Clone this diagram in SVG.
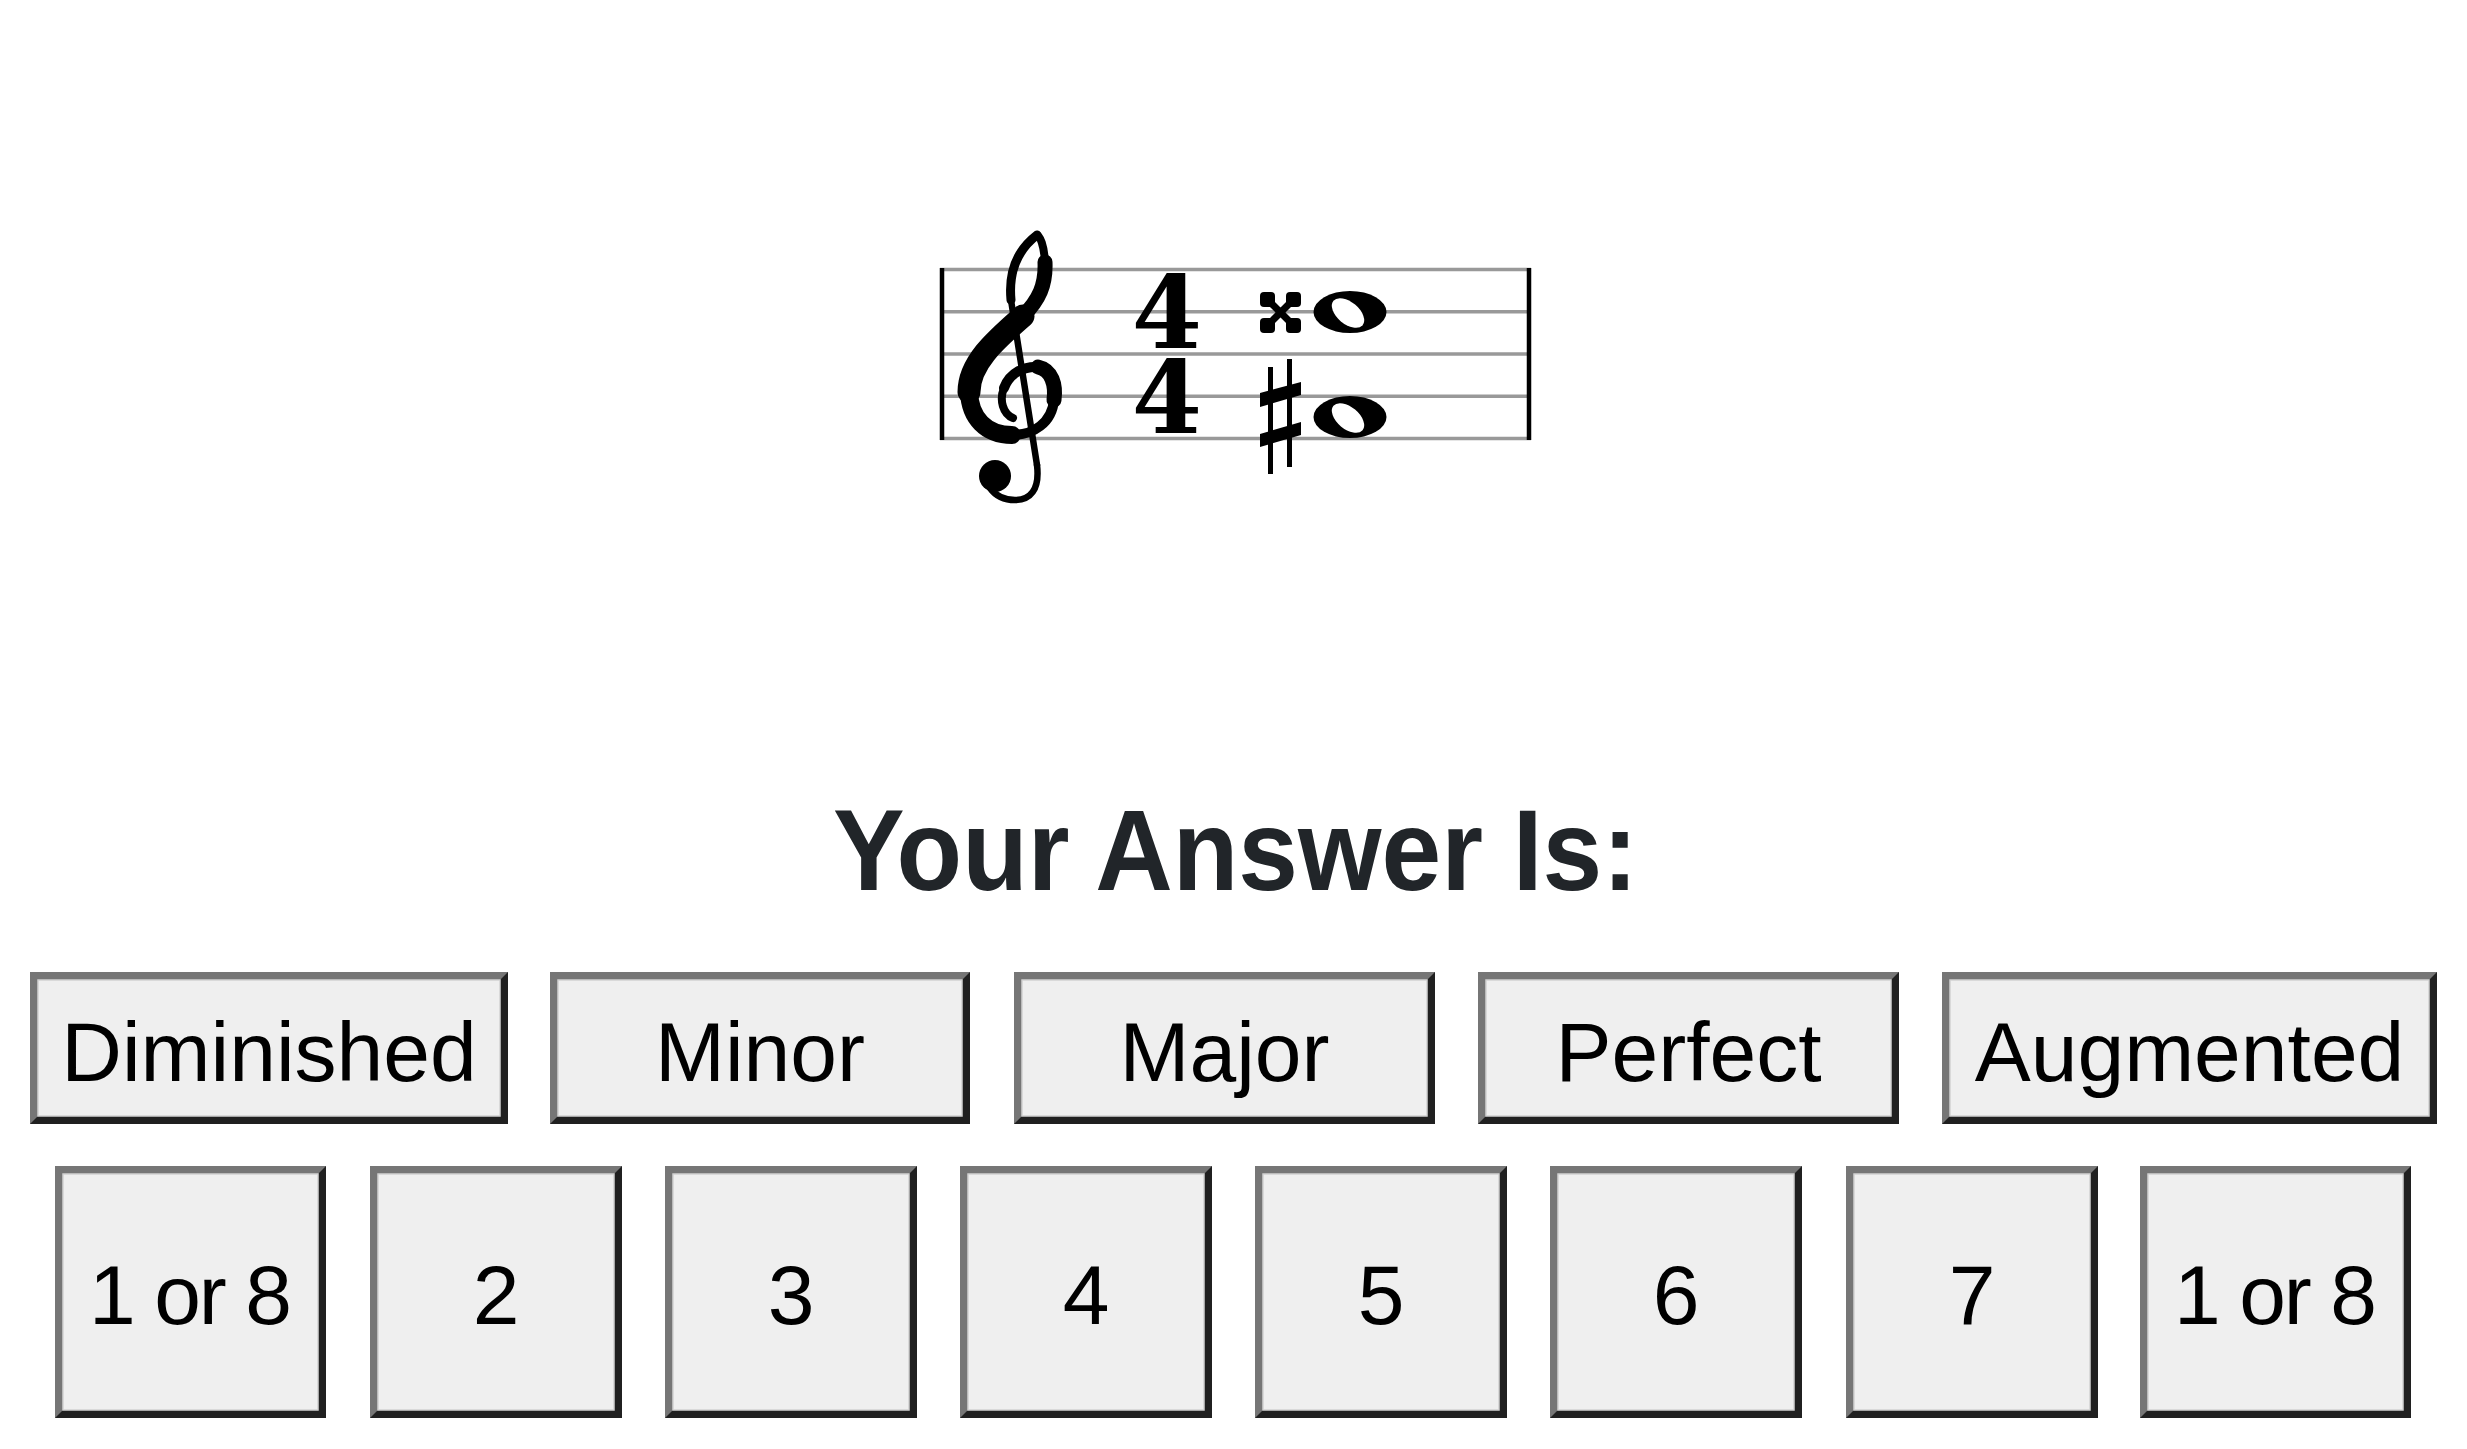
<svg xmlns="http://www.w3.org/2000/svg" width="2467" height="1449" viewBox="0 0 2467 1449">
<style>
.bd{fill:#202020}
.bl{fill:#767676}
.bf{fill:#efefef;stroke:#d2d2d2;stroke-width:1.5}
.bt{font-family:"Liberation Sans",Arial,sans-serif;font-size:84px;fill:#000;text-anchor:middle}
.sl{stroke:#999;stroke-width:3.5}
.bar{stroke:#000;stroke-width:4.5}
.ts{font-family:"DejaVu Serif","Liberation Serif",serif;font-weight:bold;font-size:101px;fill:#000;text-anchor:middle}
.cl{fill:none;stroke:#000;stroke-linecap:round;stroke-linejoin:round}
</style>
<rect width="2467" height="1449" fill="#fff"/>

<g id="staff">
  <line class="sl" x1="940" y1="269.5" x2="1531" y2="269.5"/>
  <line class="sl" x1="940" y1="311.75" x2="1531" y2="311.75"/>
  <line class="sl" x1="940" y1="354" x2="1531" y2="354"/>
  <line class="sl" x1="940" y1="396.25" x2="1531" y2="396.25"/>
  <line class="sl" x1="940" y1="438.5" x2="1531" y2="438.5"/>
  <line class="bar" x1="942" y1="268" x2="942" y2="440"/>
  <line class="bar" x1="1529" y1="268" x2="1529" y2="440"/>
</g>

<g id="clef" class="cl">
  <path d="M1013 418 C1003 414 999 400 1004 388" stroke-width="8"/>
  <path d="M1004 388 C1010 372 1025 366 1038 367" stroke-width="10"/>
  <path d="M1038 367 C1052 370 1056 385 1054 400" stroke-width="15"/>
  <path d="M1054 400 C1052 423 1033 435 1012 435" stroke-width="10"/>
  <path d="M1012 435 C986 435 970 418 969 392" stroke-width="18"/>
  <path d="M969 392 C969 362 998 338 1023 316" stroke-width="23"/>
  <path d="M1023 316 C1039 300 1046 285 1045 262" stroke-width="15"/>
  <path d="M1045 262 C1044 245 1040 236 1037 235" stroke-width="8"/>
  <path d="M1037 235 C1020 248 1008 268 1011 300" stroke-width="9"/>
  <path d="M1011 300 L1037 465" stroke-width="6.5"/>
  <path d="M1037 465 C1040 490 1030 500 1015 500 C1003 500 995 495 990 488" stroke-width="6.5"/>
  <circle cx="995" cy="476" r="16" fill="#000" stroke="none"/>
</g>

<g id="timesig">
  <text class="ts"><tspan x="1167" y="348">4</tspan><tspan x="1167" y="433">4</tspan></text>
</g>

<g id="note-upper">
  <g id="double-sharp" fill="#000">
    <path d="M1266 298 L1295 327 M1295 298 L1266 327" stroke="#000" stroke-width="7" fill="none"/>
    <rect x="1260" y="292" width="15" height="15" rx="4"/>
    <rect x="1286" y="292" width="15" height="15" rx="4"/>
    <rect x="1260" y="318" width="15" height="15" rx="4"/>
    <rect x="1286" y="318" width="15" height="15" rx="4"/>
  </g>
  <ellipse cx="1350" cy="312" rx="36.5" ry="21" fill="#000"/>
  <ellipse cx="1348" cy="313" rx="19" ry="11" fill="#fff" transform="rotate(40 1348 313)"/>
</g>

<g id="note-lower">
  <g id="sharp" fill="#000">
    <rect x="1268" y="367" width="5" height="107"/>
    <rect x="1287" y="359" width="5" height="108"/>
    <polygon points="1260,393 1301,382 1301,395 1260,407"/>
    <polygon points="1260,434 1301,422 1301,435 1260,447"/>
  </g>
  <ellipse cx="1350" cy="417" rx="36.5" ry="21" fill="#000"/>
  <ellipse cx="1348" cy="418" rx="19" ry="11" fill="#fff" transform="rotate(40 1348 418)"/>
</g>

<g id="title">
  <text x="833" y="890" font-family="'Liberation Sans',Arial,sans-serif" font-weight="bold" font-size="115" fill="#212529" textLength="805" lengthAdjust="spacingAndGlyphs">Your Answer Is:</text>
</g>

<g id="btn-diminished">
  <rect class="bd" x="30" y="972" width="478" height="152"/>
  <path class="bl" d="M30 972 H508 L500 980 H38 V1116 L30 1124 Z"/>
  <rect class="bf" x="38" y="980" width="462" height="136"/>
  <text class="bt" x="269" y="1081">Diminished</text>
</g>
<g id="btn-minor">
  <rect class="bd" x="550" y="972" width="420" height="152"/>
  <path class="bl" d="M550 972 H970 L962 980 H558 V1116 L550 1124 Z"/>
  <rect class="bf" x="558" y="980" width="404" height="136"/>
  <text class="bt" x="760" y="1081">Minor</text>
</g>
<g id="btn-major">
  <rect class="bd" x="1014" y="972" width="421" height="152"/>
  <path class="bl" d="M1014 972 H1435 L1427 980 H1022 V1116 L1014 1124 Z"/>
  <rect class="bf" x="1022" y="980" width="405" height="136"/>
  <text class="bt" x="1224.5" y="1081">Major</text>
</g>
<g id="btn-perfect">
  <rect class="bd" x="1478" y="972" width="421" height="152"/>
  <path class="bl" d="M1478 972 H1899 L1891 980 H1486 V1116 L1478 1124 Z"/>
  <rect class="bf" x="1486" y="980" width="405" height="136"/>
  <text class="bt" x="1688.5" y="1081">Perfect</text>
</g>
<g id="btn-augmented">
  <rect class="bd" x="1942" y="972" width="495" height="152"/>
  <path class="bl" d="M1942 972 H2437 L2429 980 H1950 V1116 L1942 1124 Z"/>
  <rect class="bf" x="1950" y="980" width="479" height="136"/>
  <text class="bt" x="2189.5" y="1081">Augmented</text>
</g>

<g id="btn-1or8-a">
  <rect class="bd" x="55" y="1166" width="271" height="252"/>
  <path class="bl" d="M55 1166 H326 L318 1174 H63 V1410 L55 1418 Z"/>
  <rect class="bf" x="63" y="1174" width="255" height="236"/>
  <text class="bt" x="190.5" y="1324" textLength="203" lengthAdjust="spacing">1 or 8</text>
</g>
<g id="btn-2">
  <rect class="bd" x="370" y="1166" width="252" height="252"/>
  <path class="bl" d="M370 1166 H622 L614 1174 H378 V1410 L370 1418 Z"/>
  <rect class="bf" x="378" y="1174" width="236" height="236"/>
  <text class="bt" x="496" y="1324">2</text>
</g>
<g id="btn-3">
  <rect class="bd" x="665" y="1166" width="252" height="252"/>
  <path class="bl" d="M665 1166 H917 L909 1174 H673 V1410 L665 1418 Z"/>
  <rect class="bf" x="673" y="1174" width="236" height="236"/>
  <text class="bt" x="791" y="1324">3</text>
</g>
<g id="btn-4">
  <rect class="bd" x="960" y="1166" width="252" height="252"/>
  <path class="bl" d="M960 1166 H1212 L1204 1174 H968 V1410 L960 1418 Z"/>
  <rect class="bf" x="968" y="1174" width="236" height="236"/>
  <text class="bt" x="1086" y="1324">4</text>
</g>
<g id="btn-5">
  <rect class="bd" x="1255" y="1166" width="252" height="252"/>
  <path class="bl" d="M1255 1166 H1507 L1499 1174 H1263 V1410 L1255 1418 Z"/>
  <rect class="bf" x="1263" y="1174" width="236" height="236"/>
  <text class="bt" x="1381" y="1324">5</text>
</g>
<g id="btn-6">
  <rect class="bd" x="1550" y="1166" width="252" height="252"/>
  <path class="bl" d="M1550 1166 H1802 L1794 1174 H1558 V1410 L1550 1418 Z"/>
  <rect class="bf" x="1558" y="1174" width="236" height="236"/>
  <text class="bt" x="1676" y="1324">6</text>
</g>
<g id="btn-7">
  <rect class="bd" x="1846" y="1166" width="252" height="252"/>
  <path class="bl" d="M1846 1166 H2098 L2090 1174 H1854 V1410 L1846 1418 Z"/>
  <rect class="bf" x="1854" y="1174" width="236" height="236"/>
  <text class="bt" x="1972" y="1324">7</text>
</g>
<g id="btn-1or8-b">
  <rect class="bd" x="2140" y="1166" width="271" height="252"/>
  <path class="bl" d="M2140 1166 H2411 L2403 1174 H2148 V1410 L2140 1418 Z"/>
  <rect class="bf" x="2148" y="1174" width="255" height="236"/>
  <text class="bt" x="2275.5" y="1324" textLength="203" lengthAdjust="spacing">1 or 8</text>
</g>

<g id="connectors"/>
</svg>
